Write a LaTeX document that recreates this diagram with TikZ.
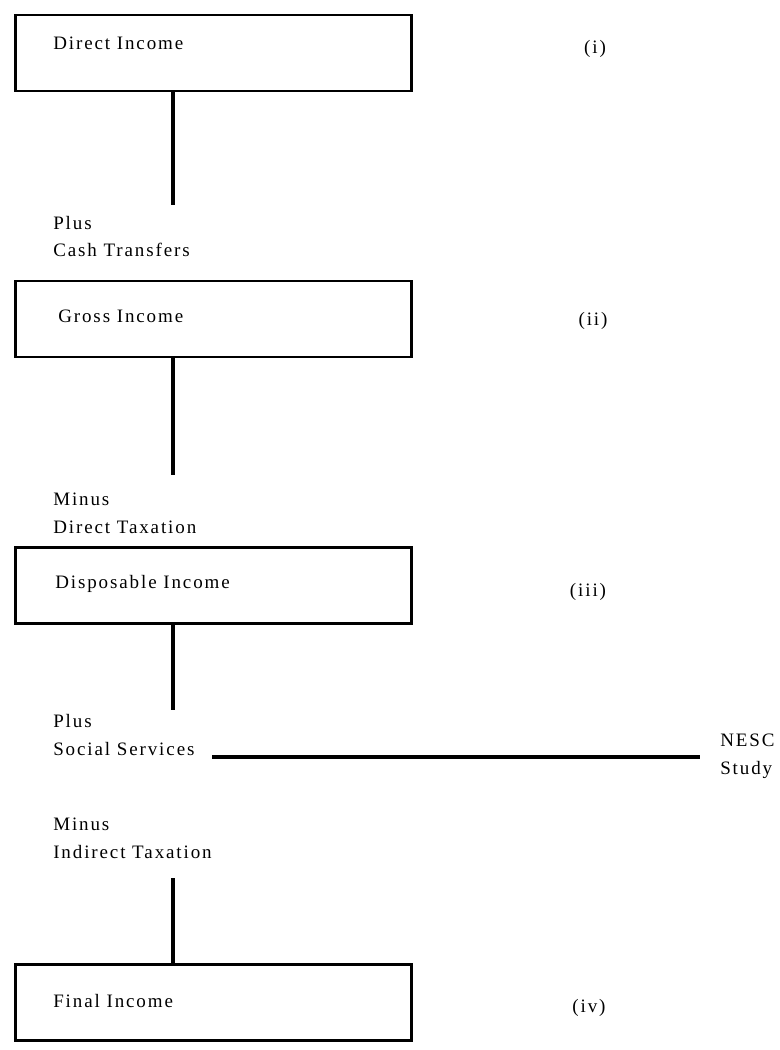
\documentclass[tikz,border=0pt]{standalone}
\usepackage{fontspec}
\setmainfont{Liberation Serif}[LetterSpace=10]
\tikzset{
  incbox/.style={draw, line width=2pt, minimum width=9.9cm, minimum height=1.9cm, inner sep=0pt},
  boxtext/.style={anchor=base west, inner sep=0pt},
  steptext/.style={anchor=base west, inner sep=0pt, align=left},
  stagetag/.style={anchor=base, inner sep=0pt},
  flowline/.style={line width=2.4pt}
}

\begin{document}
\begin{tikzpicture}[x=0.025cm, y=-0.025cm, font=\fontsize{13.5}{19.5}\selectfont]
  \useasboundingbox (0,0) rectangle (780,1050);

  % income boxes
  \node[incbox] (direct) at (213.5,53) {};
  \node[incbox] (gross) at (213.5,319) {};
  \node[incbox] (dispos) at (213.5,585.5) {};
  \node[incbox] (final) at (213.5,1002.5) {};

  \node[boxtext] (directtext) at (53,50) {Direct Income};
  \node[boxtext] (grosstext) at (58,322) {Gross Income};
  \node[boxtext] (dispostext) at (55,588) {Disposable Income};
  \node[boxtext] (finaltext) at (53,1007) {Final Income};

  % stage numbers
  \node[stagetag] (tagi) at (595,54) {(i)};
  \node[stagetag] (tagii) at (593,325) {(ii)};
  \node[stagetag] (tagiii) at (588,596) {(iii)};
  \node[stagetag] (tagiv) at (589,1012) {(iv)};

  % steps between the boxes (anchor is on the last line)
  \node[steptext] (cash) at (53,257) {Plus\\Cash Transfers};
  \node[steptext] (dtax) at (53,533) {Minus\\Direct Taxation};
  \node[steptext] (services) at (53,755) {Plus\\Social Services};
  \node[steptext] (itax) at (53,858) {Minus\\Indirect Taxation};
  \node[steptext] (nesc) at (720,774) {NESC\\Study};

  \coordinate (c1) at (173,205);
  \coordinate (c2) at (173,475);
  \coordinate (c3) at (173,710);
  \coordinate (c4) at (173,878);
  \coordinate (sstart) at (212,757);
  \coordinate (send) at (700,757);

  \draw[flowline] (direct.south -| c1) -- (c1);
  \draw[flowline] (gross.south -| c2) -- (c2);
  \draw[flowline] (dispos.south -| c3) -- (c3);
  \draw[flowline] (c4) -- (final.north -| c4);
  \draw[flowline] (sstart) -- (send);
\end{tikzpicture}
\end{document}
